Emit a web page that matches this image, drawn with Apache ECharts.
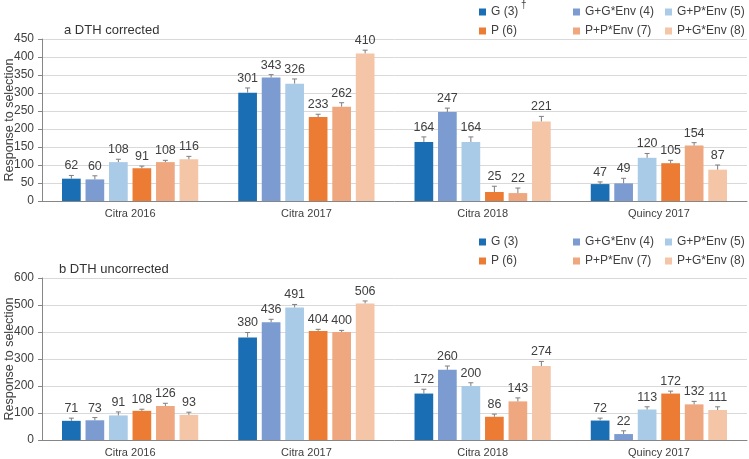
<!DOCTYPE html>
<html>
<head>
<meta charset="utf-8">
<script src="https://cdn.jsdelivr.net/npm/echarts@6/dist/echarts.min.js"></script>
<style>
  html, body { margin: 0; padding: 0; background: #fff; }
  #main { width: 749px; height: 459px; }
</style>
</head>
<body>
<div id="main"></div>
<script>
const categories = ["Citra 2016", "Citra 2017", "Citra 2018", "Quincy 2017"];
const seriesNames = ["G (3)", "G+G*Env (4)", "G+P*Env (5)", "P (6)", "P+P*Env (7)", "P+G*Env (8)"];
const colors = ["#1a6eb4", "#7b9bd1", "#a9cbe7", "#ec7c33", "#eea77f", "#f4c5a6"];

// panel a, DTH corrected (one row per series, one value per category)
const correctedValues = [
  [62, 301, 164, 47],
  [60, 343, 247, 49],
  [108, 326, 164, 120],
  [91, 233, 25, 105],
  [108, 262, 22, 154],
  [116, 410, 221, 87],
];
const correctedErrors = [
  [9, 13, 14, 6],
  [10, 8, 11, 14],
  [8, 13, 14, 12],
  [6, 8, 16, 8],
  [5, 11, 14, 8],
  [8, 9, 14, 13],
];

// panel b, DTH uncorrected
const uncorrectedValues = [
  [71, 380, 172, 72],
  [73, 436, 260, 22],
  [91, 491, 200, 113],
  [108, 404, 86, 172],
  [126, 400, 143, 132],
  [93, 506, 274, 111],
];
const uncorrectedErrors = [
  [10, 18, 16, 9],
  [10, 11, 14, 12],
  [13, 11, 12, 10],
  [6, 6, 10, 9],
  [10, 6, 13, 11],
  [10, 9, 17, 12],
];

const FONT = "Liberation Sans, Arial, sans-serif";
const TEXT = "#404040";
const BAR_W = 18.7;
const BAR_GAP = 0.257;

const panels = [
  { title: "a DTH corrected", values: correctedValues, errors: correctedErrors, max: 450, interval: 50, top: 39, legendTop: 13 },
  { title: "b DTH uncorrected", values: uncorrectedValues, errors: uncorrectedErrors, max: 600, interval: 100, top: 278, legendTop: 243 },
];
const legendCols = [481, 575, 667];

const chart = echarts.init(document.getElementById("main"));

const errorSeries = (p, i) => ({
  type: "custom",
  xAxisIndex: p,
  yAxisIndex: p,
  z: 5,
  silent: true,
  encode: { x: 0, y: 1 },
  data: panels[p].values[i].map((v, c) => [c, v, panels[p].errors[i][c]]),
  renderItem: (params, api) => {
    const center = api.coord([api.value(0), api.value(1)]);
    const x = center[0] + (i - 2.5) * BAR_W * (1 + BAR_GAP);
    const y0 = center[1];
    const y1 = api.coord([api.value(0), api.value(1) + api.value(2)])[1];
    const lineStyle = { stroke: "#7f7f7f", lineWidth: 1 };
    return {
      type: "group",
      children: [
        { type: "line", shape: { x1: x, y1: y0, x2: x, y2: y1 }, style: lineStyle },
        { type: "line", shape: { x1: x - 2.5, y1: y1, x2: x + 2.5, y2: y1 }, style: lineStyle },
        {
          type: "text",
          style: {
            text: String(api.value(1)),
            x: x,
            y: y1 - 3,
            align: "center",
            verticalAlign: "bottom",
            fill: TEXT,
            fontSize: 12.5,
            fontFamily: FONT,
          },
        },
      ],
    };
  },
});

chart.setOption({
  animation: false,
  textStyle: { fontFamily: FONT },
  title: panels.map((p, k) => ({
    text: p.title,
    left: k === 0 ? 64 : 59,
    top: p.top - 15,
    padding: 0,
    textStyle: { fontSize: 13, fontWeight: "normal", color: "#333", fontFamily: FONT },
  })),
  legend: panels.flatMap((p) =>
    seriesNames.map((name, i) => ({
      data: [name],
      left: legendCols[i % 3] - 2,
      top: p.legendTop + (i < 3 ? 0 : 19) - 7,
      padding: 0,
      icon: "rect",
      itemWidth: 7,
      itemHeight: 7,
      selectedMode: false,
      textStyle: { fontSize: 12, color: TEXT, fontFamily: FONT },
    }))
  ),
  graphic: [
    { type: "text", left: 521, top: 0, style: { text: "†", fontSize: 10, fill: TEXT, fontFamily: FONT } },
  ],
  grid: panels.map((p) => ({ left: 42, right: 2, top: p.top, height: 162, outerBoundsMode: "none" })),
  xAxis: panels.map((p, k) => ({
    gridIndex: k,
    type: "category",
    data: categories,
    axisLine: { lineStyle: { color: "#868686" } },
    axisTick: { length: 4, lineStyle: { color: "#868686" } },
    axisLabel: { fontSize: 11, color: TEXT, margin: 7 },
  })),
  yAxis: panels.map((p, k) => ({
    gridIndex: k,
    type: "value",
    min: 0,
    max: p.max,
    interval: p.interval,
    name: "Response to selection",
    nameLocation: "middle",
    nameGap: 26,
    nameMoveOverlap: false,
    nameTextStyle: { fontSize: 12.5, color: TEXT },
    axisLine: { show: true, lineStyle: { color: "#868686" } },
    axisTick: { show: true, length: 4, lineStyle: { color: "#868686" } },
    axisLabel: { fontSize: 12, color: TEXT, margin: 8 },
    splitLine: { lineStyle: { color: "#d9d9d9" } },
  })),
  series: panels.flatMap((p, k) => [
    ...seriesNames.map((name, i) => ({
      name: name,
      type: "bar",
      xAxisIndex: k,
      yAxisIndex: k,
      barWidth: BAR_W,
      barGap: BAR_GAP * 100 + "%",
      itemStyle: { color: colors[i] },
      data: p.values[i],
    })),
    ...seriesNames.map((name, i) => errorSeries(k, i)),
  ]),
});
</script>
</body>
</html>
